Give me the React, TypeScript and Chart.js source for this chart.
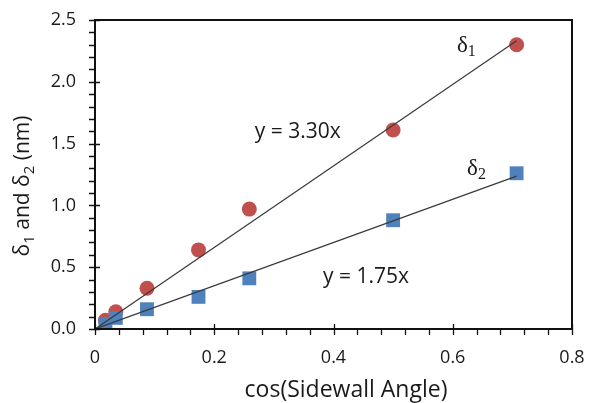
import React, { useEffect, useRef } from 'react';
import { Chart, registerables } from 'chart.js';

Chart.register(...registerables);

// ---- data ----
const cosAngle = [0.0175, 0.0349, 0.0872, 0.1736, 0.2588, 0.5, 0.7071];
const delta1 = [0.07, 0.14, 0.33, 0.64, 0.97, 1.61, 2.3];
const delta2 = [0.04, 0.09, 0.16, 0.26, 0.41, 0.88, 1.26];
const trendX = [0, 0.7071];
const trend1Y = [0, 2.333];
const trend2Y = [0, 1.237];
const xTickValues = [0, 0.2, 0.4, 0.6, 0.8];
const xTickLabels = ['0', '0.2', '0.4', '0.6', '0.8'];
const yTickValues = [0, 0.5, 1.0, 1.5, 2.0, 2.5];
const yTickLabels = ['0.0', '0.5', '1.0', '1.5', '2.0', '2.5'];
const xMinorStep = 0.04;
const yMinorStep = 0.1;
const eq1Text = 'y = 3.30x';
const eq2Text = 'y = 1.75x';
const xTitle = 'cos(Sidewall Angle)';

// ---- styles ----
const RED = '#C0504D';
const BLUE = '#4F81BD';
const LINE = '#3a3a3a';
const AXIS = '#111111';
const TEXT = '#1a1a1a';
const SANS = '"Open Sans", sans-serif';
const SERIF = '"Liberation Serif", "DejaVu Serif", serif';

type Part = { t: string; sub?: boolean };

function drawRich(ctx: CanvasRenderingContext2D, parts: Part[], x: number, y: number, size: number, family: string, subSize: number, subDrop: number, align: 'left' | 'center') {
  const widths = parts.map((p) => {
    ctx.font = `${p.sub ? subSize : size}px ${family}`;
    return ctx.measureText(p.t).width;
  });
  const total = widths.reduce((a, b) => a + b, 0);
  let cx = align === 'center' ? x - total / 2 : x;
  ctx.textAlign = 'left';
  ctx.textBaseline = 'alphabetic';
  parts.forEach((p, i) => {
    ctx.font = `${p.sub ? subSize : size}px ${family}`;
    ctx.fillText(p.t, cx, p.sub ? y + subDrop : y);
    cx += widths[i];
  });
}

const decorPlugin = {
  id: 'decor',
  afterDraw(chart: any) {
    const ctx: CanvasRenderingContext2D = chart.ctx;
    const xs = chart.scales.x;
    const ys = chart.scales.y;
    ctx.save();
    // frame
    const L = Math.round(xs.getPixelForValue(xs.min));
    const R = Math.round(xs.getPixelForValue(xs.max));
    const T = Math.round(ys.getPixelForValue(ys.max));
    const B = Math.round(ys.getPixelForValue(ys.min));
    ctx.fillStyle = AXIS;
    ctx.fillRect(L - 1, T - 1, R - L + 2, 2);
    ctx.fillRect(L - 1, B - 1, R - L + 2, 2);
    ctx.fillRect(L - 1, T - 1, 2, B - T + 2);
    ctx.fillRect(R - 1, T - 1, 2, B - T + 2);
    // ticks
    ctx.strokeStyle = AXIS;
    ctx.lineWidth = 1.3;
    ctx.beginPath();
    const ny = Math.round((ys.max - ys.min) / yMinorStep);
    for (let i = 0; i <= ny; i++) {
      const v = ys.min + i * yMinorStep;
      const py = Math.round(ys.getPixelForValue(v)) + 0.5;
      const major = yTickValues.some((t) => Math.abs(t - v) < 1e-6);
      ctx.moveTo(L - 6, py);
      ctx.lineTo(L + (major ? 5 : 0), py);
    }
    const nx = Math.round((xs.max - xs.min) / xMinorStep);
    for (let i = 0; i <= nx; i++) {
      const v = xs.min + i * xMinorStep;
      const px = Math.round(xs.getPixelForValue(v)) + 0.5;
      const major = xTickValues.some((t) => Math.abs(t - v) < 1e-6);
      ctx.moveTo(px, B + 6);
      ctx.lineTo(px, B - (major ? 5 : 0));
    }
    ctx.stroke();

    ctx.fillStyle = TEXT;
    // equations
    ctx.font = `21px ${SANS}`;
    ctx.textAlign = 'center';
    ctx.textBaseline = 'middle';
    ctx.fillText(eq1Text, xs.getPixelForValue(0.34), ys.getPixelForValue(1.594));
    ctx.fillText(eq2Text, xs.getPixelForValue(0.4545), ys.getPixelForValue(0.42));
    // series labels
    drawRich(ctx, [{ t: 'δ' }, { t: '1', sub: true }], xs.getPixelForValue(0.607), ys.getPixelForValue(2.24), 23, SERIF, 16, 4, 'left');
    drawRich(ctx, [{ t: 'δ' }, { t: '2', sub: true }], xs.getPixelForValue(0.624), ys.getPixelForValue(1.246), 23, SERIF, 16, 4, 'left');

    // x title
    ctx.font = `23px ${SANS}`;
    ctx.textAlign = 'center';
    ctx.textBaseline = 'middle';
    ctx.fillText(xTitle, 346, 390);

    // y title
    ctx.translate(22, 186);
    ctx.rotate(-Math.PI / 2);
    drawRich(
      ctx,
      [{ t: 'δ' }, { t: '1', sub: true }, { t: ' and ' }, { t: 'δ' }, { t: '2', sub: true }, { t: ' (nm)' }],
      0,
      7,
      21,
      SANS,
      15,
      5,
      'center'
    );
    ctx.restore();
  },
};

export default function App() {
  const ref = useRef<HTMLCanvasElement | null>(null);
  useEffect(() => {
    if (!ref.current) return;
    const chart = new Chart(ref.current, {
      type: 'scatter',
      data: {
        datasets: [
          {
            type: 'line',
            label: 'trend1',
            data: trendX.map((x, i) => ({ x, y: trend1Y[i] })),
            borderColor: LINE,
            borderWidth: 1.2,
            pointRadius: 0,
            fill: false,
            order: 0,
          },
          {
            type: 'line',
            label: 'trend2',
            data: trendX.map((x, i) => ({ x, y: trend2Y[i] })),
            borderColor: LINE,
            borderWidth: 1.2,
            pointRadius: 0,
            fill: false,
            order: 0,
          },
          {
            label: 'delta2',
            data: cosAngle.map((x, i) => ({ x, y: delta2[i] })),
            pointStyle: 'rect',
            pointRadius: 9.8,
            pointBackgroundColor: BLUE,
            pointBorderColor: BLUE,
            pointBorderWidth: 0,
            order: 1,
          },
          {
            label: 'delta1',
            data: cosAngle.map((x, i) => ({ x, y: delta1[i] })),
            pointStyle: 'circle',
            pointRadius: 7.5,
            pointBackgroundColor: RED,
            pointBorderColor: RED,
            pointBorderWidth: 0,
            order: 2,
          },
        ],
      },
      options: {
        responsive: false,
        animation: false,
        layout: { padding: { left: 0, top: 20, right: 23, bottom: 0 } },
        plugins: { legend: { display: false }, tooltip: { enabled: false } },
        scales: {
          x: {
            type: 'linear',
            min: 0,
            max: 0.8,
            afterBuildTicks: (s: any) => {
              s.ticks = xTickValues.map((v) => ({ value: v }));
            },
            ticks: {
              font: { family: SANS, size: 18 },
              color: TEXT,
              padding: 1,
              callback: (v: any) => {
                const i = xTickValues.findIndex((t) => Math.abs(t - v) < 1e-6);
                return i >= 0 ? xTickLabels[i] : '';
              },
            },
            grid: { display: false, drawTicks: true, tickLength: 17 },
            border: { display: false },
            afterFit: (s: any) => {
              s.height = 74;
            },
          },
          y: {
            type: 'linear',
            min: 0,
            max: 2.5,
            afterBuildTicks: (s: any) => {
              s.ticks = yTickValues.map((v) => ({ value: v }));
            },
            ticks: {
              font: { family: SANS, size: 18 },
              color: TEXT,
              padding: 2,
              callback: (v: any) => {
                const i = yTickValues.findIndex((t) => Math.abs(t - v) < 1e-6);
                return i >= 0 ? yTickLabels[i] : '';
              },
            },
            grid: { display: false, drawTicks: true, tickLength: 17 },
            border: { display: false },
            afterFit: (s: any) => {
              s.width = 95;
            },
          },
        },
      },
      plugins: [decorPlugin],
    } as any);
    return () => chart.destroy();
  }, []);
  return (
    <div style={{ position: 'absolute', left: 0, top: 0, width: 595, height: 403, background: '#fff' }}>
      <canvas ref={ref} width={595} height={403} style={{ display: 'block' }} />
    </div>
  );
}
